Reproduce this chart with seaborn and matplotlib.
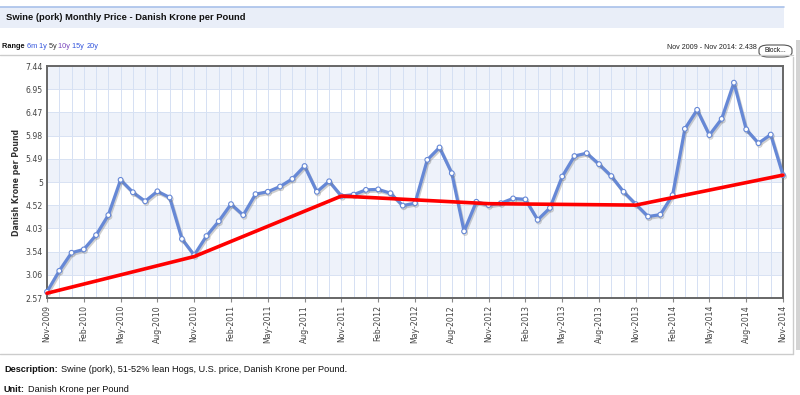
import numpy as np
import pandas as pd
import matplotlib
matplotlib.use("Agg")
import matplotlib.pyplot as plt
import matplotlib.patheffects as pe
from matplotlib.patches import Rectangle, FancyBboxPatch
from matplotlib.lines import Line2D
import seaborn as sns

# ---------------- data ----------------
start_month = "2009-11"
prices = [2.70, 3.14, 3.52, 3.59, 3.89, 4.31, 5.05, 4.79, 4.60, 4.81, 4.68, 3.81,
          3.47, 3.87, 4.18, 4.54, 4.31, 4.75, 4.80, 4.91, 5.07, 5.34, 4.80, 5.02,
          4.71, 4.74, 4.84, 4.85, 4.77, 4.51, 4.56, 5.47, 5.73, 5.19, 3.97, 4.59,
          4.52, 4.56, 4.66, 4.64, 4.21, 4.46, 5.12, 5.55, 5.61, 5.38, 5.13, 4.80,
          4.54, 4.28, 4.32, 4.73, 6.12, 6.52, 5.99, 6.33, 7.09, 6.11, 5.82, 6.00,
          5.15]
trend_months = ["Nov-2009", "Nov-2010", "Nov-2011", "Nov-2012", "Nov-2013", "Nov-2014"]
trend_values = [2.67, 3.44, 4.71, 4.55, 4.52, 5.15]
y_ticks = [2.57, 3.06, 3.54, 4.03, 4.52, 5.0, 5.49, 5.98, 6.47, 6.95, 7.44]
y_tick_labels = ["2.57", "3.06", "3.54", "4.03", "4.52", "5", "5.49", "5.98",
                 "6.47", "6.95", "7.44"]
x_tick_labels = ["Nov-2009", "Feb-2010", "May-2010", "Aug-2010", "Nov-2010",
                 "Feb-2011", "May-2011", "Aug-2011", "Nov-2011", "Feb-2012",
                 "May-2012", "Aug-2012", "Nov-2012", "Feb-2013", "May-2013",
                 "Aug-2013", "Nov-2013", "Feb-2014", "May-2014", "Aug-2014",
                 "Nov-2014"]

months = pd.period_range(start_month, periods=len(prices), freq="M").strftime("%b-%Y").tolist()
df = pd.DataFrame({"pos": np.arange(len(prices)), "month": months, "price": prices})
tdf = pd.DataFrame({"pos": [months.index(m) for m in trend_months], "value": trend_values})

# ---------------- style ----------------
sns.set_style("white")
plt.rcParams["font.family"] = ["DejaVu Sans"]

W, H = 800, 395
fig = plt.figure(figsize=(W / 100, H / 100), dpi=100)

def fx(x):
    return x / W

def fy(y):
    return 1 - y / H

# header bar
fig.patches.append(Rectangle((0, fy(28)), fx(784), (28 - 7) / H, transform=fig.transFigure,
                             facecolor="#e9eef8", edgecolor="none", zorder=0))
fig.add_artist(Line2D([0, fx(784)], [fy(7), fy(7)], color="#a9c1ea", lw=1.2))
fig.text(fx(6), fy(17.5), "Swine (pork) Monthly Price - Danish Krone per Pound",
         fontsize=6.75, fontweight="bold", family="Liberation Sans", va="center", ha="left",
         color="#111111")

# range row
rx = 2
fs_r = 5.3
parts = [("Range ", "#111111", "bold"), ("6m ", "#3355dd", "normal"), ("1y ", "#3355dd", "normal"),
         ("5y ", "#333333", "normal"), ("10y ", "#7744bb", "normal"), ("15y ", "#3355dd", "normal"),
         ("20y", "#3355dd", "normal")]
txt = fig.text(fx(rx), fy(47), parts[0][0], fontsize=fs_r, fontweight=parts[0][2],
               color=parts[0][1], va="center", ha="left", family="Liberation Sans")
fig.canvas.draw()
r = fig.canvas.get_renderer()
cur = txt
for s, c, w in parts[1:]:
    bb = cur.get_window_extent(renderer=r)
    cur = fig.text(bb.x1 / W, fy(47), s, fontsize=fs_r, fontweight=w, color=c,
                   va="center", ha="left", family="Liberation Sans")

fig.text(fx(757), fy(47.5), "Nov 2009 - Nov 2014: 2.438", fontsize=5.15, color="#222222",
         va="center", ha="right", family="Liberation Sans")
fig.patches.append(FancyBboxPatch((fx(759), fy(57)), fx(33), (57 - 45) / H,
                                  boxstyle="round,pad=0,rounding_size=0.012",
                                  transform=fig.transFigure, facecolor="white",
                                  edgecolor="#555555", lw=0.8))
fig.text(fx(775.5), fy(51), "Block...", fontsize=4.8, color="#111111", va="center", ha="center",
         family="Liberation Sans")

# frame lines of the chart box
fig.add_artist(Line2D([0, fx(793)], [fy(55), fy(55)], color="#cccccc", lw=1.0))
fig.add_artist(Line2D([0, fx(793)], [fy(354), fy(354)], color="#cccccc", lw=1.0))
fig.add_artist(Line2D([fx(793), fx(793)], [fy(57), fy(354)], color="#cccccc", lw=1.0))
fig.patches.append(Rectangle((fx(796), fy(350)), fx(4), (350 - 40) / H, transform=fig.transFigure,
                             facecolor="#d4d4d4", edgecolor="none"))

# ---------------- axes ----------------
ax = fig.add_axes([fx(47), fy(298), (783 - 47) / W, (298 - 66) / H])
ax.set_facecolor("white")
for i in range(len(y_ticks) - 1):
    if i % 2 == 1:
        ax.axhspan(y_ticks[i], y_ticks[i + 1], color="#eef2fa", zorder=0, lw=0)

sns.lineplot(data=tdf, x="pos", y="value", ax=ax, color="#ff0000", lw=2.6, zorder=4,
             legend=False)
sns.lineplot(data=df, x="pos", y="price", ax=ax, color="#6688d6", lw=2.3, marker="o",
             markersize=3.4, markerfacecolor="white", markeredgecolor="#6688d6",
             markeredgewidth=0.8, zorder=3, legend=False)
blue = ax.lines[-1]
blue.set_path_effects([pe.SimpleLineShadow(offset=(0.8, -1.2), shadow_color="#777777",
                                           alpha=0.35), pe.Normal()])
for ln in ax.lines:
    ln.set_clip_on(False)

ax.set_xlim(0, len(prices) - 1)
ax.set_ylim(y_ticks[0], y_ticks[-1])
ax.set_xticks([months.index(m) for m in x_tick_labels])
ax.set_xticklabels(x_tick_labels, rotation=90, fontsize=5.6, color="#444444")
ax.set_xticks(np.arange(len(prices)), minor=True)
ax.set_yticks(y_ticks)
ax.set_yticklabels(y_tick_labels, fontsize=5.6, color="#444444")
ax.grid(which="minor", axis="x", color="#d5e0f3", lw=0.7)
ax.grid(which="major", axis="x", color="#d5e0f3", lw=0.7)
ax.grid(which="major", axis="y", color="#d8e2f3", lw=0.7)
ax.set_axisbelow(True)
ax.tick_params(axis="x", which="major", length=3, color="#888888", pad=2, bottom=True)
ax.tick_params(axis="x", which="minor", length=0)
ax.tick_params(axis="y", length=0, pad=3)
for s in ax.spines.values():
    s.set_color("#666666")
    s.set_linewidth(1.4)
    s.set_visible(True)
ax.set_xlabel("")
ax.set_ylabel("Danish Krone per Pound", fontsize=5.6, fontweight="bold", color="#333333",
              labelpad=3)

# ---------------- footer ----------------
fs_d = 6.55
fig.text(fx(4), fy(370), "Description:", fontsize=fs_d, fontweight="bold", family="Liberation Sans",
         va="center", ha="left", color="#111111")
d = fig.texts[-1]
fig.canvas.draw()
bb = d.get_window_extent(renderer=fig.canvas.get_renderer())
fig.text(bb.x1 / W + fx(3), fy(370), "Swine (pork), 51-52% lean Hogs, U.S. price, Danish Krone per Pound.",
         fontsize=fs_d, family="Liberation Sans", va="center", ha="left", color="#111111")
fig.text(fx(4), fy(390), "Unit:", fontsize=fs_d, fontweight="bold", family="Liberation Sans",
         va="center", ha="left", color="#111111")
u = fig.texts[-1]
fig.canvas.draw()
bb = u.get_window_extent(renderer=fig.canvas.get_renderer())
fig.text(bb.x1 / W + fx(3), fy(390), "Danish Krone per Pound", fontsize=fs_d,
         family="Liberation Sans", va="center", ha="left", color="#111111")

fig.savefig("out.png", dpi=100)
